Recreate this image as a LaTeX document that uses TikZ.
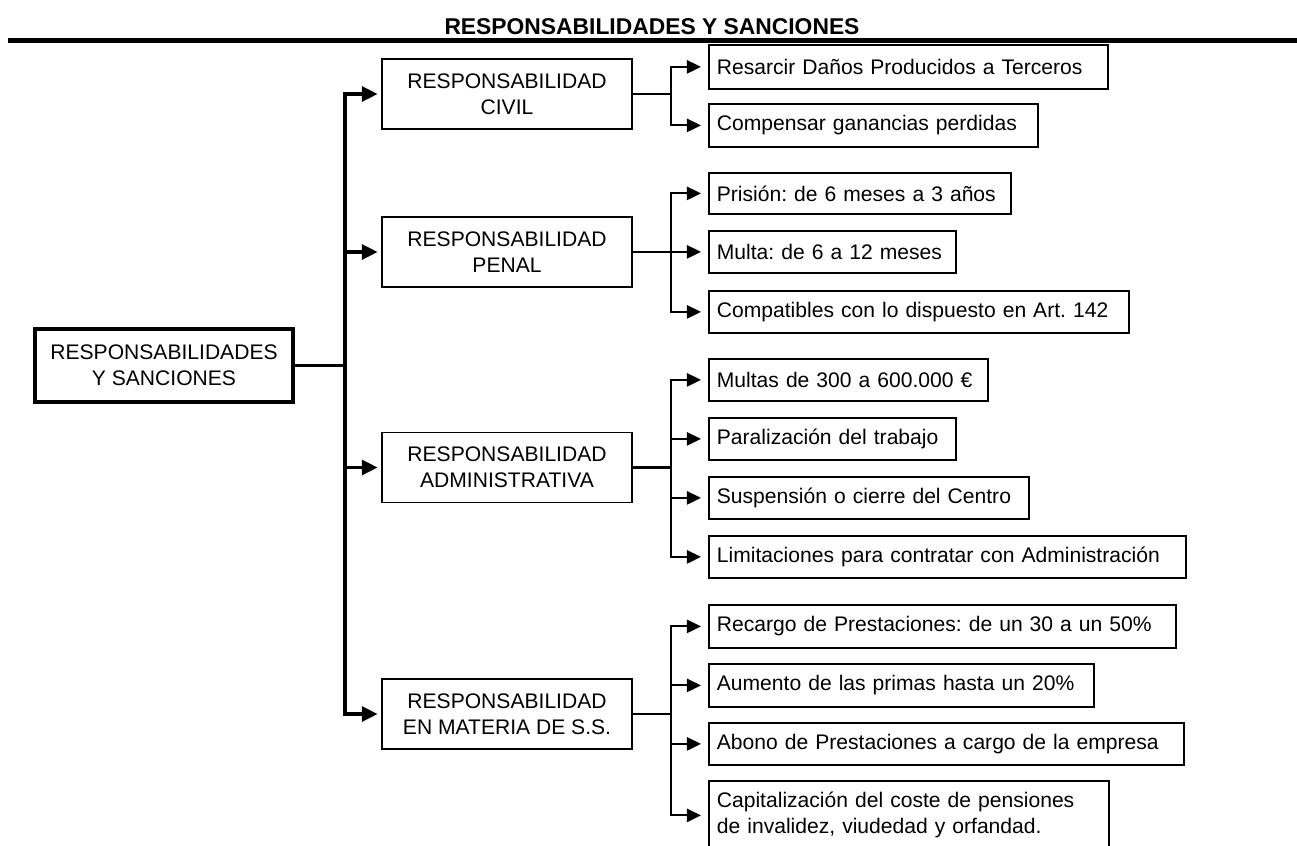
\documentclass[tikz,border=0pt]{standalone}
\usepackage{fontspec}
\setmainfont{Liberation Sans}
\frenchspacing
\usetikzlibrary{arrows.meta}
\tikzset{
  rs title/.style={font=\bfseries\fontsize{13}{15.6}\selectfont},
  rs root/.style={draw, line width=1.9pt, minimum width=5.16cm, minimum height=1.46cm, align=center},
  rs level/.style={draw, line width=1pt, minimum width=5cm, minimum height=1.4cm, align=center},
  rs item/.style={draw, line width=1pt, anchor=north west, align=left, inner xsep=0.16cm, inner ysep=0pt},
  rs rule/.style={line width=2.3pt},
  rs trunk/.style={line width=1.9pt},
  rs trunk arrow/.style={line width=1.9pt, -{Triangle[length=9pt,width=8.5pt]}, shorten >=2pt},
  rs branch/.style={line width=1.2pt},
  rs branch arrow/.style={line width=1.2pt, -{Triangle[length=8pt,width=7.5pt]}, shorten >=4pt},
}

\begin{document}
\begin{tikzpicture}[x=0.02cm,y=-0.02cm,font=\fontsize{12}{14.8}\selectfont]
  \useasboundingbox (0,0) rectangle (1297,845);
  \clip (0,0) rectangle (1297,845);
  % Heading and rule
  \node[rs title] (title) at (652,27) {RESPONSABILIDADES Y SANCIONES};
  \draw[rs rule] (8,40.5) -- (1297,40.5);
  % Root and the four kinds of responsibility
  \node[rs root] (root) at (164,365.5) {RESPONSABILIDADES\\Y SANCIONES};
  \node[rs level] (civil) at (507,94) {RESPONSABILIDAD\\CIVIL};
  \node[rs level] (penal) at (507,252) {RESPONSABILIDAD\\PENAL};
  \node[rs level] (admin) at (507,467.5) {RESPONSABILIDAD\\ADMINISTRATIVA};
  \node[rs level] (segsoc) at (507,714) {RESPONSABILIDAD\\EN MATERIA DE S.S.};
  % Trunk
  \coordinate (trunk) at (345,365.5);
  \draw[rs trunk] (root.east) -- (trunk);
  \foreach \n in {civil,penal,admin,segsoc}
    \draw[rs trunk arrow] (trunk) |- (\n.west);
  % Short stubs to each branch bus
  \foreach \n in {civil,penal,admin,segsoc}
    \draw[rs branch] (\n.east) -- ++(38,0) coordinate (\n bus);
  % Sanctions: name/parent/top/bottom/right/text
  \foreach \nm/\up/\ya/\yb/\xr/\txt in {
    danos/civil/44/88/1107/{Resarcir Daños Producidos a Terceros},
    ganancias/civil/103/146/1037/{Compensar ganancias perdidas},
    prision/penal/172/213/1010/{Prisión: de 6 meses a 3 años},
    multa/penal/230/272/955/{Multa: de 6 a 12 meses},
    compat/penal/290/332/1128/{Compatibles con lo dispuesto en Art. 142},
    multas/admin/358/400/987/{Multas de 300 a 600.000 €},
    paral/admin/417/459/955/{Paralización del trabajo},
    cierre/admin/476/518/1028/{Suspensión o cierre del Centro},
    limit/admin/535/577/1185/{Limitaciones para contratar con Administración},
    recargo/segsoc/604/647/1175/{Recargo de Prestaciones: de un 30 a un 50\%},
    primas/segsoc/663/706/1093/{Aumento de las primas hasta un 20\%},
    abono/segsoc/722/764/1183/{Abono de Prestaciones a cargo de la empresa},
    capital/segsoc/780/849/1108/{Capitalización del coste de pensiones\\de invalidez, viudedad y orfandad.}%
  }{
    \pgfmathsetmacro\bw{(\xr-708)*0.02-0.32}
    \pgfmathsetmacro\bh{(\yb-\ya)*0.02}
    \node[rs item, text width=\bw cm, minimum height=\bh cm] (\nm) at (708,\ya) {\txt};
    \draw[rs branch arrow] (\up bus) |- (\nm.west);
  }
\end{tikzpicture}
\end{document}
